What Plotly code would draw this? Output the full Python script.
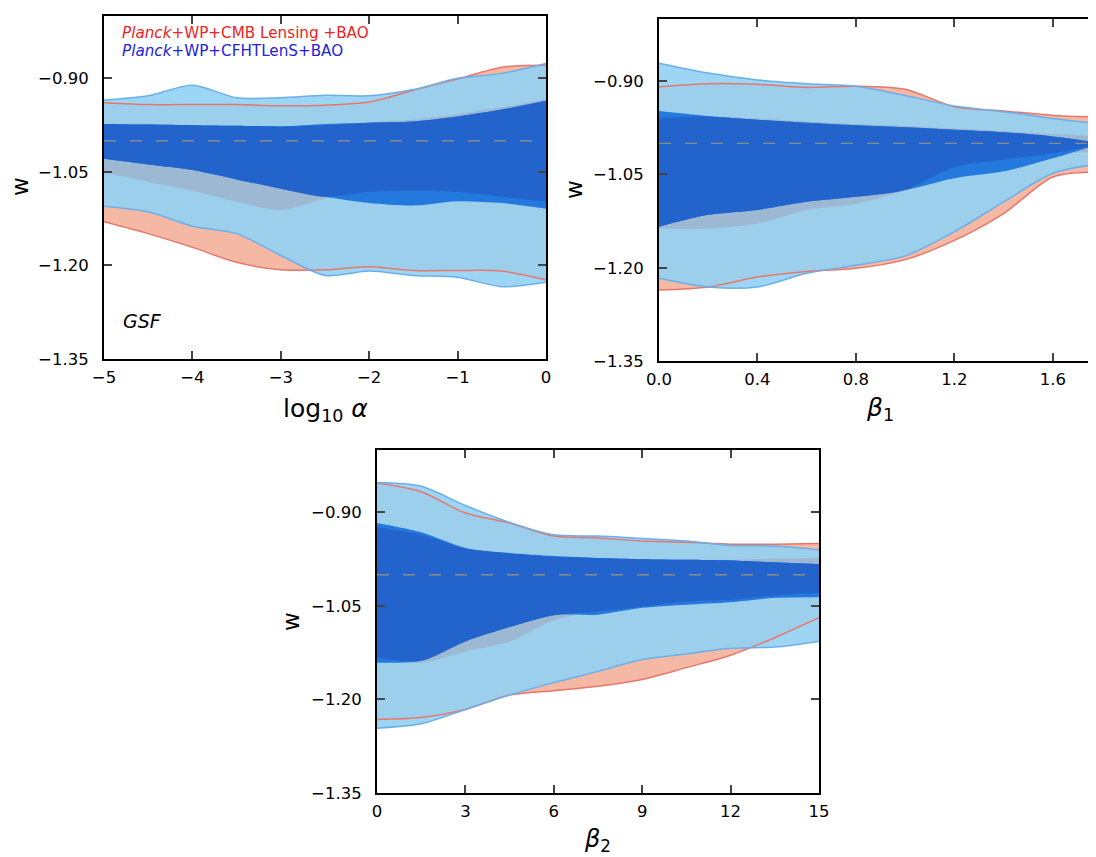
import numpy as np
import plotly.graph_objects as go

# ---------------- data (w constraints) ----------------
# Panel 1: log10 alpha
x_alpha = [-5, -4.5, -4, -3.5, -3, -2.5, -2, -1.5, -1, -0.5, 0]
a_red2_hi = [-0.939, -0.942, -0.942, -0.942, -0.944, -0.943, -0.938, -0.919, -0.901, -0.882, -0.879]
a_red2_lo = [-1.130, -1.149, -1.171, -1.195, -1.207, -1.207, -1.202, -1.208, -1.208, -1.209, -1.223]
a_red1_hi = [-0.973, -0.973, -0.975, -0.976, -0.977, -0.975, -0.970, -0.966, -0.957, -0.946, -0.934]
a_red1_lo = [-1.051, -1.066, -1.080, -1.098, -1.111, -1.093, -1.082, -1.080, -1.082, -1.090, -1.098]
a_blue2_hi = [-0.935, -0.928, -0.911, -0.931, -0.931, -0.927, -0.928, -0.918, -0.900, -0.892, -0.876]
a_blue2_lo = [-1.105, -1.114, -1.137, -1.149, -1.184, -1.216, -1.209, -1.216, -1.219, -1.234, -1.227]
a_blue1_hi = [-0.973, -0.974, -0.975, -0.976, -0.977, -0.973, -0.971, -0.969, -0.961, -0.950, -0.936]
a_blue1_lo = [-1.029, -1.038, -1.047, -1.062, -1.077, -1.090, -1.100, -1.104, -1.097, -1.100, -1.109]

# Panel 2: beta_1
x_beta1 = [0, 0.2, 0.4, 0.6, 0.8, 1.0, 1.2, 1.4, 1.6, 1.8]
b1_red2_hi = [-0.909, -0.904, -0.905, -0.910, -0.908, -0.913, -0.941, -0.948, -0.955, -0.958]
b1_red2_lo = [-1.236, -1.231, -1.215, -1.206, -1.201, -1.187, -1.156, -1.113, -1.054, -1.046]
b1_red1_hi = [-0.960, -0.957, -0.960, -0.965, -0.969, -0.972, -0.976, -0.980, -0.985, -0.988]
b1_red1_lo = [-1.137, -1.137, -1.129, -1.107, -1.097, -1.075, -1.038, -1.026, -1.016, -1.014]
b1_blue2_hi = [-0.871, -0.887, -0.898, -0.904, -0.908, -0.923, -0.940, -0.949, -0.960, -0.969]
b1_blue2_lo = [-1.217, -1.231, -1.231, -1.209, -1.196, -1.181, -1.142, -1.094, -1.048, -1.032]
b1_blue1_hi = [-0.948, -0.956, -0.962, -0.967, -0.971, -0.974, -0.978, -0.982, -0.989, -1.000]
b1_blue1_lo = [-1.134, -1.115, -1.107, -1.094, -1.086, -1.075, -1.056, -1.045, -1.024, -1.000]

# Panel 3: beta_2
x_beta2 = [0, 1.5, 3, 4.5, 6, 7.5, 9, 10.5, 12, 13.5, 15]
b2_red2_hi = [-0.853, -0.867, -0.901, -0.917, -0.938, -0.941, -0.946, -0.948, -0.951, -0.951, -0.950]
b2_red2_lo = [-1.232, -1.229, -1.216, -1.193, -1.186, -1.179, -1.168, -1.149, -1.129, -1.101, -1.069]
b2_red1_hi = [-0.924, -0.936, -0.958, -0.966, -0.971, -0.973, -0.975, -0.976, -0.976, -0.974, -0.973]
b2_red1_lo = [-1.133, -1.141, -1.123, -1.107, -1.073, -1.059, -1.051, -1.043, -1.040, -1.033, -1.029]
b2_blue2_hi = [-0.852, -0.858, -0.889, -0.916, -0.936, -0.938, -0.942, -0.946, -0.953, -0.954, -0.960]
b2_blue2_lo = [-1.246, -1.239, -1.216, -1.193, -1.173, -1.155, -1.136, -1.127, -1.118, -1.116, -1.107]
b2_blue1_hi = [-0.917, -0.932, -0.957, -0.965, -0.970, -0.973, -0.975, -0.976, -0.977, -0.980, -0.983]
b2_blue1_lo = [-1.141, -1.138, -1.107, -1.084, -1.065, -1.064, -1.053, -1.048, -1.044, -1.037, -1.036]

y_ticks = [-0.90, -1.05, -1.20, -1.35]
w_fiducial = -1.0

# ---------------- styling ----------------
C_RED2 = "#f5b8a4"
C_BLUE2 = "rgba(146,209,244,0.90)"
C_RED1 = "#9db8d3"
C_BLUE1 = "#2379dd"
C_BOTH1 = "#2264cc"
C_RED_LINE = "#e8776b"
C_BLUE_LINE = "#6aafea"
FONT = "DejaVu Sans"

fig = go.Figure()


def band(xs, lo, hi, color, xa, ya):
    fig.add_trace(go.Scatter(x=xs, y=lo, mode="lines", line=dict(width=0, shape="spline", smoothing=0.8),
                             hoverinfo="skip", showlegend=False, xaxis=xa, yaxis=ya))
    fig.add_trace(go.Scatter(x=xs, y=hi, mode="lines", line=dict(width=0, shape="spline", smoothing=0.8),
                             fill="tonexty", fillcolor=color, hoverinfo="skip", showlegend=False,
                             xaxis=xa, yaxis=ya))


def edge(xs, ys, color, xa, ya):
    fig.add_trace(go.Scatter(x=xs, y=ys, mode="lines",
                             line=dict(width=1.5, color=color, shape="spline", smoothing=0.8),
                             hoverinfo="skip", showlegend=False, xaxis=xa, yaxis=ya))


panels = [
    (x_alpha, a_red2_lo, a_red2_hi, a_red1_lo, a_red1_hi, a_blue2_lo, a_blue2_hi, a_blue1_lo, a_blue1_hi, "x", "y"),
    (x_beta1, b1_red2_lo, b1_red2_hi, b1_red1_lo, b1_red1_hi, b1_blue2_lo, b1_blue2_hi, b1_blue1_lo, b1_blue1_hi, "x2", "y2"),
    (x_beta2, b2_red2_lo, b2_red2_hi, b2_red1_lo, b2_red1_hi, b2_blue2_lo, b2_blue2_hi, b2_blue1_lo, b2_blue1_hi, "x3", "y3"),
]

for xs, r2l, r2h, r1l, r1h, b2l, b2h, b1l, b1h, xa, ya in panels:
    band(xs, r2l, r2h, C_RED2, xa, ya)
    band(xs, b2l, b2h, C_BLUE2, xa, ya)
    band(xs, r1l, r1h, C_RED1, xa, ya)
    band(xs, b1l, b1h, C_BLUE1, xa, ya)
    both_lo = list(np.maximum(r1l, b1l))
    both_hi = list(np.minimum(r1h, b1h))
    band(xs, both_lo, both_hi, C_BOTH1, xa, ya)
    edge(xs, r2h, C_RED_LINE, xa, ya)
    edge(xs, r2l, C_RED_LINE, xa, ya)
    edge(xs, b2h, C_BLUE_LINE, xa, ya)
    edge(xs, b2l, C_BLUE_LINE, xa, ya)

# page body has an 8px margin: the figure is sized/offset to land on the 1096x857 window
OFF = 8
W, H = 1096 - OFF, 857 - OFF


def px(x):
    return (x - OFF) / W


def py(y):
    return 1 - (y - OFF) / H


def dom_x(a, b):
    return [px(a), min(px(b), 1.0)]


def dom_y(top, bottom):
    return [py(bottom), py(top)]


axis_common = dict(showline=True, linecolor="black", linewidth=2, ticks="inside", ticklen=8,
                   tickwidth=1.5, tickcolor="#444", showgrid=False, zeroline=False, automargin=False,
                   tickfont=dict(family=FONT, size=16.5, color="black"))

yaxis_common = dict(axis_common, range=[-1.35, -0.80], tickvals=y_ticks, tickformat=".2f",
                    ticklabelstandoff=10)

fig.update_layout(
    template="none",
    width=W, height=H, margin=dict(l=0, r=0, t=0, b=0, autoexpand=False),
    paper_bgcolor="white", plot_bgcolor="white", showlegend=False,
    xaxis=dict(axis_common, domain=dom_x(104, 546), range=[-5, 0], tickvals=[-5, -4, -3, -2, -1, 0],
               mirror="ticks", anchor="y", ticklabelstandoff=2),
    yaxis=dict(yaxis_common, domain=dom_y(16, 359), mirror="ticks", anchor="x"),
    xaxis2=dict(axis_common, domain=dom_x(659, 1096), range=[0, 1.775], tickvals=[0, 0.4, 0.8, 1.2, 1.6],
                tickformat=".1f", mirror="ticks", anchor="y2", ticklabelstandoff=2),
    yaxis2=dict(yaxis_common, domain=dom_y(19, 361), mirror=False, anchor="x2"),
    xaxis3=dict(axis_common, domain=dom_x(377, 819), range=[0, 15], tickvals=[0, 3, 6, 9, 12, 15],
                mirror="ticks", anchor="y3", ticklabelstandoff=2),
    yaxis3=dict(yaxis_common, domain=dom_y(450, 793), mirror="ticks", anchor="x3"),
)

# fiducial w = -1 dashed lines
for xa, ya in [("x", "y"), ("x2", "y2"), ("x3", "y3")]:
    fig.add_shape(type="line", xref=f"{xa} domain", yref=ya, x0=0, x1=1, y0=w_fiducial, y1=w_fiducial,
                  line=dict(color="#8a8a8a", width=1.3, dash="12px,14px"), layer="above")


def note(text, x, y, size, color="black", xanchor="center", angle=0):
    return dict(text=text, x=px(x), y=py(y), xref="paper", yref="paper", showarrow=False,
                xanchor=xanchor, yanchor="middle", textangle=angle, borderpad=0,
                font=dict(family=FONT, size=size, color=color))


ann = []
for (x, y) in [(20, 187), (574, 190), (291, 622)]:
    ann.append(note("w", x, y, 23, angle=-90))
ann.append(note("log<sub>10</sub> <i>α</i>", 325, 410, 25))
ann.append(note("<i>β</i><sub>1</sub>", 880, 409, 25))
ann.append(note("<i>β</i><sub>2</sub>", 597, 840, 24))
ann.append(note("<i>Planck</i>+WP+CMB Lensing +BAO", 121, 33, 15.2, "#ee2222", "left"))
ann.append(note("<i>Planck</i>+WP+CFHTLenS+BAO", 121, 51, 15.2, "#2222dd", "left"))
ann.append(note("<i>GSF</i>", 122, 321, 19, "black", "left"))
fig.update_layout(annotations=ann)

fig.write_html("out.html")
